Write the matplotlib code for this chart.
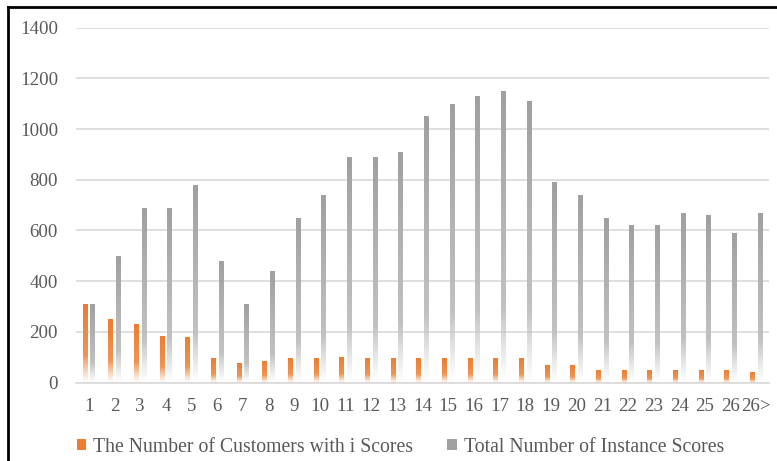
"""Bar chart: customers with i scores vs total instance scores."""

import matplotlib
matplotlib.use("Agg")
import matplotlib.pyplot as plt
import numpy as np
from matplotlib.lines import Line2D
from matplotlib.patches import Patch


categories = [str(i) for i in range(1, 27)] + ["26>"]
customers = [310, 250, 230, 185, 180, 95, 75, 85, 95, 95, 100, 95, 95, 95,
             95, 95, 95, 95, 70, 70, 50, 50, 50, 50, 50, 50, 40]
instance_scores = [310, 500, 690, 690, 780, 480, 310, 440, 650, 740, 890, 890,
                   910, 1050, 1100, 1130, 1150, 1110, 790, 740, 650, 620, 620,
                   670, 660, 590, 670]
series_names = ["The Number of Customers with i Scores",
                "Total Number of Instance Scores"]

ORANGE_TOP = np.array([237, 125, 49]) / 255
ORANGE_LOW = np.array([244, 160, 100]) / 255
GREY_TOP = np.array([160, 160, 160]) / 255
GREY_LOW = np.array([205, 205, 205]) / 255
TEXT = "#595959"
GRID = "#d9d9d9"


def gradient_bar(ax, x, width, height, top, low, fade=0.3, n=64):
    """Draw one bar with a vertical gradient fading to white at the bottom."""
    f = np.linspace(0, 1, n)[:, None]
    rgb = low + (top - low) * f
    alpha = np.clip(f / fade, 0, 1)
    img = np.concatenate([rgb, alpha], axis=1).reshape(n, 1, 4)
    ax.imshow(img, extent=(x - width / 2, x + width / 2, 0, height),
              origin="lower", aspect="auto", interpolation="bilinear", zorder=3)


plt.rcParams["font.family"] = ["Liberation Serif", "DejaVu Serif"]

fig = plt.figure(figsize=(7.77, 4.61), dpi=100)
ax = fig.add_axes([0.0978, 0.170, 0.892, 0.770])

x = np.arange(len(categories))
width = 0.17
for xi, c, t in zip(x, customers, instance_scores):
    gradient_bar(ax, xi - 0.16, width, c, ORANGE_TOP, ORANGE_LOW, fade=0.35)
    gradient_bar(ax, xi + 0.145, width, t, GREY_TOP, GREY_LOW, fade=0.25)

ax.set_xlim(-0.5, len(categories) - 0.5)
ax.set_ylim(0, 1400)
ax.set_yticks(range(0, 1401, 200))
ax.set_xticks(x)
ax.set_xticklabels(categories)
ax.tick_params(length=0, labelsize=13.6, labelcolor=TEXT)
ax.tick_params(axis="y", pad=13)
ax.tick_params(axis="x", pad=11)
ax.grid(axis="y", color=GRID, linewidth=1.2, zorder=0)
ax.set_axisbelow(True)
for side in ["top", "right", "left"]:
    ax.spines[side].set_visible(False)
ax.spines["bottom"].set_color(GRID)
ax.spines["bottom"].set_linewidth(1.2)

handles = [Patch(facecolor=ORANGE_TOP), Patch(facecolor=GREY_TOP)]
fig.legend(handles, series_names, loc="center", bbox_to_anchor=(0.515, 0.03),
           ncol=2, frameon=False, fontsize=14.2, labelcolor=TEXT,
           handlelength=0.5, handleheight=0.5, handletextpad=0.35,
           columnspacing=1.7)

# frame visible on the left and top edges of the cropped figure
fig.add_artist(Line2D([0.0097, 0.0097], [0, 0.985], color="black",
                      linewidth=2, transform=fig.transFigure))
fig.add_artist(Line2D([0.0097, 1], [0.985, 0.985], color="black",
                      linewidth=2, transform=fig.transFigure))

fig.savefig("out.png", dpi=100)
